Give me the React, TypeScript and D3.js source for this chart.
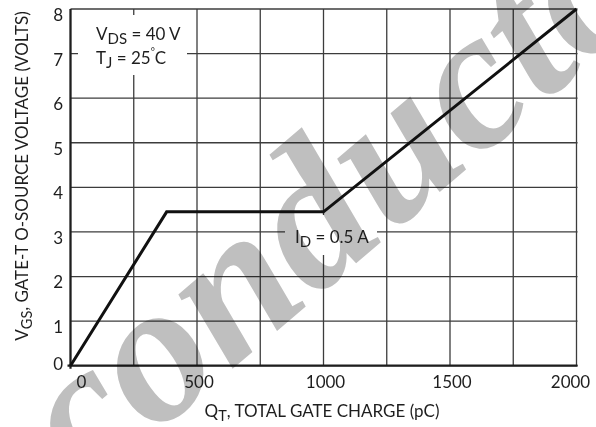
import * as d3 from "d3";

// gate charge curve
const chargePc = [0, 380, 1000, 2000];
const gateVolts = [0, 3.45, 3.45, 8];

const xTickValues = [0, 500, 1000, 1500, 2000];
const xGridValues = [0, 250, 500, 750, 1000, 1250, 1500, 1750, 2000];
const yTickValues = [0, 1, 2, 3, 4, 5, 6, 7, 8];

const W = 596;
const H = 427;
const margin = { top: 9, right: 19.5, bottom: 61.3, left: 70.5 };
const FONT = "Lato, 'Open Sans', sans-serif";
const INK = "#1e1e1e";

export default function App() {
  const x = d3
    .scaleLinear()
    .domain([0, 2000])
    .range([margin.left, W - margin.right]);
  const y = d3
    .scaleLinear()
    .domain([0, 8])
    .range([H - margin.bottom, margin.top]);

  const line = d3
    .line<number>()
    .x((d, i) => x(chargePc[i]))
    .y((d) => y(d));

  const x0 = x(0);
  const x1 = x(2000);
  const y0 = y(0);
  const y1 = y(8);

  return (
    <svg
      width={W}
      height={H}
      style={{ position: "absolute", left: 0, top: 0, background: "#fff" }}
      fontFamily={FONT}
    >
      {/* grid */}
      <g stroke="#3c3c3c" strokeWidth={1.3}>
        {xGridValues.map((v) => (
          <line key={"gx" + v} x1={x(v)} x2={x(v)} y1={y1} y2={y0} />
        ))}
        {yTickValues.map((v) => (
          <line key={"gy" + v} x1={x0} x2={x1 + 1} y1={y(v)} y2={y(v)} />
        ))}
      </g>

      {/* axes */}
      <g stroke={INK} strokeWidth={2.2}>
        <line x1={x0} x2={x0} y1={y1} y2={y0 + 3} />
        <line x1={x0 - 3} x2={x1 + 1} y1={y0} y2={y0} />
      </g>

      {/* white backing behind the notes */}
      <rect x={78} y={15} width={109} height={60} fill="#fff" />
      <rect x={285} y={215} width={92} height={40} fill="#fff" />

      {/* watermark */}
      <text
        transform="translate(86,494) rotate(-40.5)"
        fontFamily="'Liberation Serif', 'DejaVu Serif', serif"
        fontStyle="italic"
        fontWeight="bold"
        fontSize={200}
        fill="#bfbfbf"
        style={{ mixBlendMode: "multiply" }}
      >
        conductor
      </text>

      {/* the curve */}
      <path
        d={line(gateVolts) || ""}
        fill="none"
        stroke="#111"
        strokeWidth={3}
        strokeLinejoin="miter"
      />

      <text x={96} y={40} fontSize={17} fill={INK}>
        V<tspan fontSize={15} dy={4}>DS</tspan>
        <tspan dy={-4}> = 40 V</tspan>
      </text>
      <text x={96} y={64} fontSize={17} fill={INK}>
        T<tspan fontSize={15} dy={4}>J</tspan>
        <tspan dy={-4}> = 25</tspan>
        <tspan fontSize={10} dy={-9}>°</tspan>
        <tspan dy={9}>C</tspan>
      </text>
      <text x={295} y={243} fontSize={17} fill={INK}>
        I<tspan fontSize={15} dy={4}>D</tspan>
        <tspan dy={-4}> = 0.5 A</tspan>
      </text>

      {/* y tick labels */}
      <g fontSize={17} fill={INK} textAnchor="end">
        {yTickValues.map((v) => (
          <text key={"yl" + v} x={63} y={y(v) + (v === 0 ? -2 : 6)} dy="0.35em">
            {v}
          </text>
        ))}
      </g>

      {/* x tick labels */}
      <g fontSize={17} fill={INK} textAnchor="middle">
        {xTickValues.map((v) => (
          <text
            key={"xl" + v}
            x={x(v) + (v === 0 ? 11 : v === 2000 ? -6 : 2)}
            y={388}
          >
            {v}
          </text>
        ))}
      </g>

      {/* axis titles */}
      <text x={322} y={417} fontSize={17} fill={INK} textAnchor="middle">
        Q<tspan fontSize={14.5} dy={4}>T</tspan>
        <tspan dy={-4}>, TOTAL GATE CHARGE (pC)</tspan>
      </text>
      <text
        transform="translate(28,176) rotate(-90)"
        fontSize={17}
        fill={INK}
        textAnchor="middle"
      >
        V<tspan fontSize={14.5} dy={4}>GS</tspan>
        <tspan dy={-4}>, GATE-T O-SOURCE VOLTAGE (VOLTS)</tspan>
      </text>
    </svg>
  );
}
